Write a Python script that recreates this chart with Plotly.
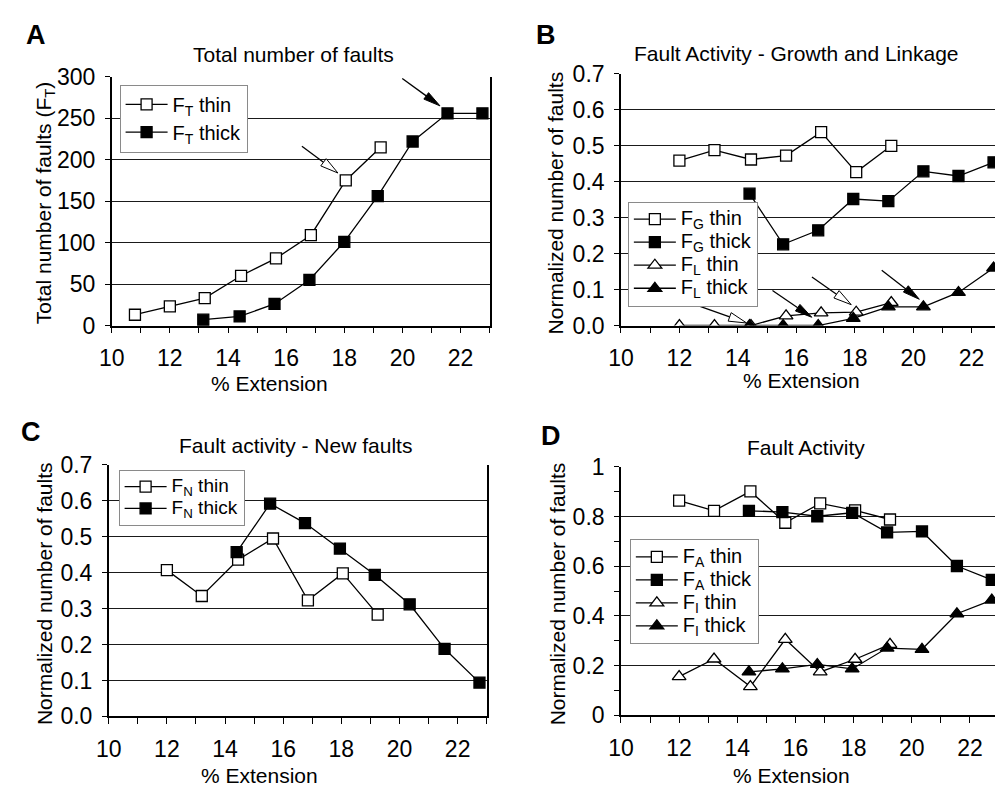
import math
import plotly.graph_objects as go

W, H = 995, 801
FONT = "Liberation Sans, Arial, sans-serif"

# ---------------- data ----------------
a_thin_x = [10.8, 12.0, 13.2, 14.45, 15.65, 16.85, 18.05, 19.25]
a_thin_y = [13, 23, 33, 60, 81, 109, 175, 215]
a_thick_x = [13.15, 14.4, 15.6, 16.8, 18.0, 19.15, 20.35, 21.55, 22.75]
a_thick_y = [7, 11, 26, 55, 101, 156, 222, 256, 256]

thin_x = [12.0, 13.2, 14.45, 15.65, 16.85, 18.05, 19.25]
thick_x = [14.4, 15.55, 16.75, 17.95, 19.15, 20.35, 21.55, 22.75]

fg_thin = [0.459, 0.488, 0.462, 0.473, 0.538, 0.427, 0.500]
fg_thick = [0.367, 0.226, 0.265, 0.352, 0.346, 0.429, 0.416, 0.454]
fl_thin = [0.0, 0.0, 0.0, 0.027, 0.035, 0.037, 0.064]
fl_thick = [0.0, 0.0, 0.0, 0.020, 0.052, 0.052, 0.092, 0.160]

fn_thin = [0.407, 0.335, 0.436, 0.495, 0.323, 0.398, 0.283]
fn_thick = [0.457, 0.592, 0.538, 0.467, 0.394, 0.312, 0.188, 0.094]

fa_thin = [0.864, 0.823, 0.901, 0.775, 0.853, 0.825, 0.788]
fa_thick = [0.823, 0.818, 0.801, 0.815, 0.736, 0.740, 0.601, 0.545]
fi_thin = [0.156, 0.227, 0.116, 0.306, 0.175, 0.226, 0.286]
fi_thick = [0.175, 0.187, 0.205, 0.187, 0.271, 0.266, 0.409, 0.464]

# ---------------- layout helpers ----------------
def px2x(p):
    return p / W

def px2y(p):
    return 1 - p / H

# plot areas in pixels: (left, right, top, bottom)
areas = {
    "A": (100, 483, 66, 323),
    "B": (616, 995, 63, 323),
    "C": (97, 480, 467, 727),
    "D": (616, 995, 469, 726),
}
xranges = {"A": [10, 23], "B": [10, 22.8], "C": [10, 23.0], "D": [10, 22.86]}
yranges = {"A": [0, 300], "B": [0, 0.7], "C": [0, 0.7], "D": [0, 1]}
ydticks = {"A": 50, "B": 0.1, "C": 0.1, "D": 0.2}

fig = go.Figure()

def lbl(s, size):
    return "<span style='font-size:%dpx'>%s</span>" % (size, s)

def add(panel, x, y, name, symbol, filled, legend, lsize=20):
    idx = {"A": "", "B": "2", "C": "3", "D": "4"}[panel]
    fig.add_trace(go.Scatter(
        x=x, y=y, name=lbl(name, lsize), mode="lines+markers",
        xaxis="x" + idx, yaxis="y" + idx, legend=legend,
        line=dict(color="black", width=1.3),
        marker=dict(symbol=symbol, size=11 if symbol == "square" else 12,
                    color="black" if filled else "white",
                    line=dict(color="black", width=1.3)),
        cliponaxis=False if panel in ("A", "C") else True,
    ))

add("A", a_thin_x, a_thin_y, "F<sub>T</sub> thin", "square", False, "legend")
add("A", a_thick_x, a_thick_y, "F<sub>T</sub> thick", "square", True, "legend")

add("B", thin_x, fg_thin, "F<sub>G</sub> thin", "square", False, "legend2")
add("B", thick_x, fg_thick, "F<sub>G</sub> thick", "square", True, "legend2")
add("B", thin_x, fl_thin, "F<sub>L</sub> thin", "triangle-up", False, "legend2")
add("B", thick_x, fl_thick, "F<sub>L</sub> thick", "triangle-up", True, "legend2")

add("C", thin_x, fn_thin, "F<sub>N</sub> thin", "square", False, "legend3", 19)
add("C", thick_x, fn_thick, "F<sub>N</sub> thick", "square", True, "legend3", 19)

add("D", thin_x, fa_thin, "F<sub>A</sub> thin", "square", False, "legend4")
add("D", thick_x, fa_thick, "F<sub>A</sub> thick", "square", True, "legend4")
add("D", thin_x, fi_thin, "F<sub>I</sub> thin", "triangle-up", False, "legend4")
add("D", thick_x, fi_thick, "F<sub>I</sub> thick", "triangle-up", True, "legend4")

layout = dict(
    width=W, height=H, margin=dict(l=0, r=0, t=0, b=0),
    paper_bgcolor="white", plot_bgcolor="white",
    font=dict(family=FONT, color="black", size=20),
    showlegend=True,
)

for i, p in enumerate(["A", "B", "C", "D"]):
    idx = "" if i == 0 else str(i + 1)
    l, r, t, b = areas[p]
    xa = dict(
        domain=[px2x(l), min(1.0, px2x(r))], range=xranges[p],
        anchor="y" + idx, dtick=2, tick0=10,
        showgrid=False, zeroline=False, showline=True, linecolor="black", linewidth=1.5,
        ticks="outside", ticklen=6, tickwidth=1.3, tickcolor="black",
        minor=dict(dtick=1, ticks="outside", ticklen=6, tickwidth=1.3, tickcolor="black", showgrid=False),
        tickfont=dict(size=23, family=FONT), ticklabelstandoff=5,
    )
    ya = dict(
        domain=[px2y(b), px2y(t)], range=yranges[p],
        anchor="x" + idx, dtick=ydticks[p], tick0=0,
        showgrid=True, gridcolor="#1a1a1a", gridwidth=1.2,
        zeroline=False, showline=True, linecolor="black", linewidth=1.5,
        mirror=(p in ("A", "C")),
        ticks="outside", ticklen=5, tickwidth=1.3, tickcolor="black",
        tickfont=dict(size=23, family=FONT), ticklabelstandoff=5,
    )
    if p in ("B", "C"):
        ya["tickformat"] = ".1f"
    if p == "D":
        ya["minor"] = dict(dtick=0.1, ticks="outside", ticklen=5, tickwidth=1.3,
                           tickcolor="black", showgrid=False)
    layout["xaxis" + idx] = xa
    layout["yaxis" + idx] = ya

def leg(x, y, size):
    return dict(x=px2x(x), y=px2y(y), bgcolor="white", bordercolor="#8a8a8a", borderwidth=1,
                font=dict(size=size, family=FONT), xanchor="left", yanchor="top",
                tracegroupgap=0, itemclick=False, itemwidth=42)

layout["legend"] = leg(108, 74, 19)
layout["legend2"] = leg(623, 195, 15.4)
layout["legend3"] = leg(107, 472, 14.5)
layout["legend4"] = leg(625, 544, 15.4)

fig.update_layout(**layout)

# ---------------- text ----------------
def text(s, cx, cy, size=21, bold=False, angle=0):
    fig.add_annotation(text=("<b>%s</b>" % s) if bold else s, x=px2x(cx), y=px2y(cy),
                       xref="paper", yref="paper", xanchor="center", yanchor="middle",
                       showarrow=False, textangle=angle,
                       font=dict(size=size, family=FONT, color="black"))

text("A", 23, 23, 27, True)
text("B", 540, 23, 27, True)
text("C", 18, 433, 27, True)
text("D", 545, 437, 27, True)

text("Total number of faults", 284, 43, 21)
text("Fault Activity - Growth and Linkage", 794, 42, 21)
text("Fault activity - New faults", 286, 447, 21)
text("Fault Activity", 804, 449, 21)

text("Total number of faults (F<sub>T</sub>)", 32, 197, 21, angle=-90)
text("Normalized number of faults", 550, 196, 21, angle=-90)
text("Normalized number of faults", 32, 600, 21, angle=-90)
text("Normalized number of faults", 552, 600, 21, angle=-90)

text("% Extension", 260, 383, 21)
text("% Extension", 799, 380, 21)
text("% Extension", 250, 788, 21)
text("% Extension", 789, 788, 21)

# ---------------- arrows (pixel-sized shapes anchored at data tips) ----------------
def arrow(xref, yref, tipx, tipy, dx, dy, filled, hl=17, hw=8):
    # dx, dy: tail offset from tip in screen pixels (y down)
    L = math.hypot(dx, dy)
    ux, uy = -dx / L, -dy / L  # direction tail->tip (screen)
    bx, by = -ux * hl, -uy * hl  # head base center relative to tip
    px_, py_ = -uy, ux
    p1 = (bx + px_ * hw / 2, by + py_ * hw / 2)
    p2 = (bx - px_ * hw / 2, by - py_ * hw / 2)
    f = lambda pt: "%.2f,%.2f" % (pt[0], -pt[1])
    common = dict(type="path", xref=xref, yref=yref, xsizemode="pixel", ysizemode="pixel",
                  xanchor=tipx, yanchor=tipy, layer="above")
    fig.add_shape(path="M %s L %s" % (f((dx, dy)), f((bx, by))),
                  line=dict(color="black", width=1.3), **common)
    fig.add_shape(path="M 0,0 L %s L %s Z" % (f(p1), f(p2)),
                  fillcolor="black" if filled else "white",
                  line=dict(color="black", width=1), **common)

arrow("x", "y", 21.29, 265, -37.7, -27.4, True)
arrow("x", "y", 17.78, 184, -36, -26.7, False, 18, 9)
arrow("x2", "y2", 14.30, 0.007, -46.6, -16.7, False, 18, 9)
arrow("x2", "y2", 16.53, 0.023, -39.3, -26.7, True)
arrow("x2", "y2", 17.88, 0.058, -39.3, -27.7, False, 18, 9)
arrow("x2", "y2", 20.21, 0.073, -37.6, -29, True)

fig.write_html("out.html")
